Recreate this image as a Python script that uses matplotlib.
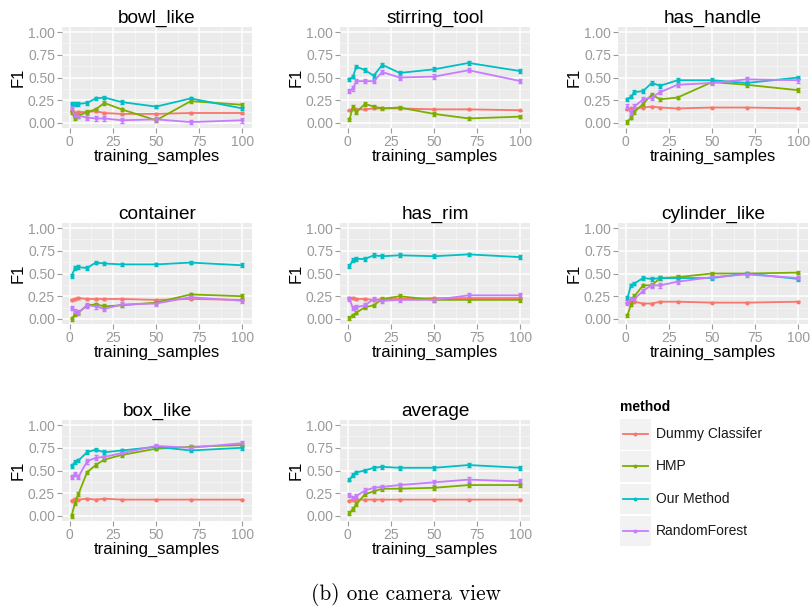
"""F1 vs training_samples, facet grid (ggplot-like), one camera view."""

import matplotlib
matplotlib.use("Agg")
import matplotlib.pyplot as plt  # noqa: E402
from matplotlib.patches import Rectangle  # noqa: E402
from matplotlib.lines import Line2D  # noqa: E402

plt.rcParams["font.family"] = ["Liberation Sans", "DejaVu Sans"]

training_samples = [1, 3, 5, 10, 15, 20, 30, 50, 70, 100]
methods = ["Dummy Classifer", "HMP", "Our Method", "RandomForest"]
colors = ["#F8766D", "#7CAE00", "#00BFC4", "#C77CFF"]
err_size = [0.008, 0.02, 0.02, 0.025]

# 패널별 F1 값 (Dummy, HMP, Our Method, RandomForest 순)
bowl_like = [
    [0.13, 0.11, 0.12, 0.12, 0.13, 0.11, 0.10, 0.10, 0.11, 0.11],
    [0.12, 0.05, 0.08, 0.12, 0.15, 0.22, 0.15, 0.03, 0.24, 0.20],
    [0.21, 0.21, 0.21, 0.22, 0.27, 0.28, 0.23, 0.18, 0.27, 0.16],
    [0.16, 0.08, 0.08, 0.06, 0.05, 0.05, 0.03, 0.04, 0.01, 0.03],
]
stirring_tool = [
    [0.14, 0.15, 0.15, 0.15, 0.16, 0.16, 0.16, 0.15, 0.15, 0.14],
    [0.04, 0.18, 0.12, 0.21, 0.18, 0.16, 0.17, 0.10, 0.05, 0.07],
    [0.48, 0.51, 0.62, 0.58, 0.52, 0.64, 0.55, 0.59, 0.66, 0.57],
    [0.35, 0.38, 0.46, 0.46, 0.46, 0.56, 0.50, 0.51, 0.58, 0.46],
]
has_handle = [
    [0.15, 0.16, 0.16, 0.17, 0.18, 0.17, 0.16, 0.17, 0.17, 0.16],
    [0.01, 0.06, 0.12, 0.21, 0.31, 0.26, 0.28, 0.45, 0.42, 0.36],
    [0.26, 0.29, 0.34, 0.35, 0.44, 0.41, 0.47, 0.47, 0.44, 0.50],
    [0.18, 0.11, 0.18, 0.26, 0.28, 0.34, 0.42, 0.44, 0.48, 0.47],
]
container = [
    [0.21, 0.22, 0.23, 0.22, 0.22, 0.22, 0.22, 0.21, 0.22, 0.21],
    [0.00, 0.05, 0.07, 0.15, 0.16, 0.14, 0.15, 0.18, 0.27, 0.25],
    [0.47, 0.56, 0.57, 0.56, 0.62, 0.61, 0.60, 0.60, 0.62, 0.59],
    [0.12, 0.08, 0.07, 0.15, 0.14, 0.11, 0.16, 0.17, 0.24, 0.20],
]
has_rim = [
    [0.23, 0.23, 0.22, 0.22, 0.21, 0.22, 0.22, 0.23, 0.23, 0.23],
    [0.01, 0.04, 0.07, 0.13, 0.15, 0.22, 0.25, 0.21, 0.21, 0.21],
    [0.58, 0.65, 0.66, 0.66, 0.70, 0.69, 0.70, 0.69, 0.71, 0.68],
    [0.22, 0.12, 0.13, 0.15, 0.22, 0.20, 0.21, 0.21, 0.26, 0.26],
]
cylinder_like = [
    [0.18, 0.19, 0.19, 0.17, 0.17, 0.19, 0.19, 0.18, 0.18, 0.19],
    [0.04, 0.16, 0.25, 0.37, 0.37, 0.45, 0.46, 0.50, 0.50, 0.51],
    [0.23, 0.37, 0.39, 0.45, 0.44, 0.45, 0.45, 0.45, 0.50, 0.44],
    [0.18, 0.22, 0.22, 0.31, 0.37, 0.37, 0.41, 0.46, 0.49, 0.45],
]
box_like = [
    [0.17, 0.19, 0.18, 0.19, 0.18, 0.19, 0.18, 0.18, 0.18, 0.18],
    [0.00, 0.14, 0.24, 0.48, 0.56, 0.62, 0.67, 0.74, 0.76, 0.78],
    [0.55, 0.59, 0.61, 0.70, 0.73, 0.70, 0.72, 0.76, 0.72, 0.75],
    [0.43, 0.46, 0.43, 0.60, 0.64, 0.65, 0.69, 0.77, 0.75, 0.80],
]
average = [
    [0.17, 0.18, 0.18, 0.18, 0.18, 0.18, 0.18, 0.18, 0.18, 0.18],
    [0.03, 0.08, 0.13, 0.24, 0.27, 0.30, 0.30, 0.31, 0.34, 0.34],
    [0.40, 0.45, 0.48, 0.50, 0.53, 0.54, 0.53, 0.53, 0.56, 0.53],
    [0.23, 0.20, 0.22, 0.28, 0.31, 0.32, 0.34, 0.37, 0.40, 0.38],
]

panels = [
    ("bowl_like", bowl_like), ("stirring_tool", stirring_tool),
    ("has_handle", has_handle), ("container", container),
    ("has_rim", has_rim), ("cylinder_like", cylinder_like),
    ("box_like", box_like), ("average", average),
]

W, H = 812, 608
col_left = [62, 340, 618]
row_top = [27, 223, 420]
pw, ph = 190, 101
GREY = "#9A9A9A"

fig = plt.figure(figsize=(W / 100, H / 100), dpi=100)

for i, (name, series) in enumerate(panels):
    r, c = divmod(i, 3)
    ax = fig.add_axes([col_left[c] / W, 1 - (row_top[r] + ph) / H, pw / W, ph / H])
    ax.set_facecolor("#EBEBEB")
    for s in ax.spines.values():
        s.set_visible(False)
    ax.set_xlim(-4.5, 105.5)
    ax.set_ylim(-0.055, 1.055)
    ax.set_xticks([0, 25, 50, 75, 100])
    ax.set_yticks([0, 0.25, 0.5, 0.75, 1.0])
    ax.set_yticklabels(["0.00", "0.25", "0.50", "0.75", "1.00"])
    ax.set_xticks([12.5, 37.5, 62.5, 87.5], minor=True)
    ax.set_yticks([0.125, 0.375, 0.625, 0.875], minor=True)
    ax.grid(which="major", color="white", linewidth=1.1)
    ax.grid(which="minor", color="#F5F5F5", linewidth=0.6)
    ax.set_axisbelow(True)
    ax.tick_params(which="major", length=3.5, width=0.8, color=GREY,
                   labelcolor=GREY, labelsize=10, pad=1.5)
    ax.tick_params(which="minor", length=0)
    for vals, col, e in zip(series, colors, err_size):
        ax.errorbar(training_samples, vals, yerr=e, color=col, linewidth=1.3,
                    elinewidth=1.0, capsize=1.5, marker="o", markersize=1.8)
    ax.set_title(name, fontsize=13.7, pad=2)
    ax.set_xlabel("training_samples", fontsize=12, labelpad=0)
    ax.set_ylabel("F1", fontsize=12, labelpad=2)

# 범례 (ggplot 스타일)
leg = fig.add_axes([0, 0, 1, 1])
leg.set_xlim(0, W)
leg.set_ylim(H, 0)
leg.axis("off")
leg.text(620, 407, "method", fontsize=10, fontweight="bold", va="center")
for k, (m, col) in enumerate(zip(methods, colors)):
    top = 419 + k * 32.3
    leg.add_patch(Rectangle((620, top), 31, 30.5, color="#F2F2F2", lw=0))
    leg.add_line(Line2D([623, 648], [top + 15, top + 15], color=col, lw=1.3))
    leg.plot([635.5], [top + 15], marker="o", markersize=1.8, color=col)
    leg.text(656, top + 15, m, fontsize=10, va="center", color="#1A1A1A")

fig.text(0.5, 1 - 594 / H, "(b) one camera view", ha="center", va="center",
         fontsize=15.3, family=["cmr10", "DejaVu Serif"])

fig.savefig("out.png", dpi=100)
